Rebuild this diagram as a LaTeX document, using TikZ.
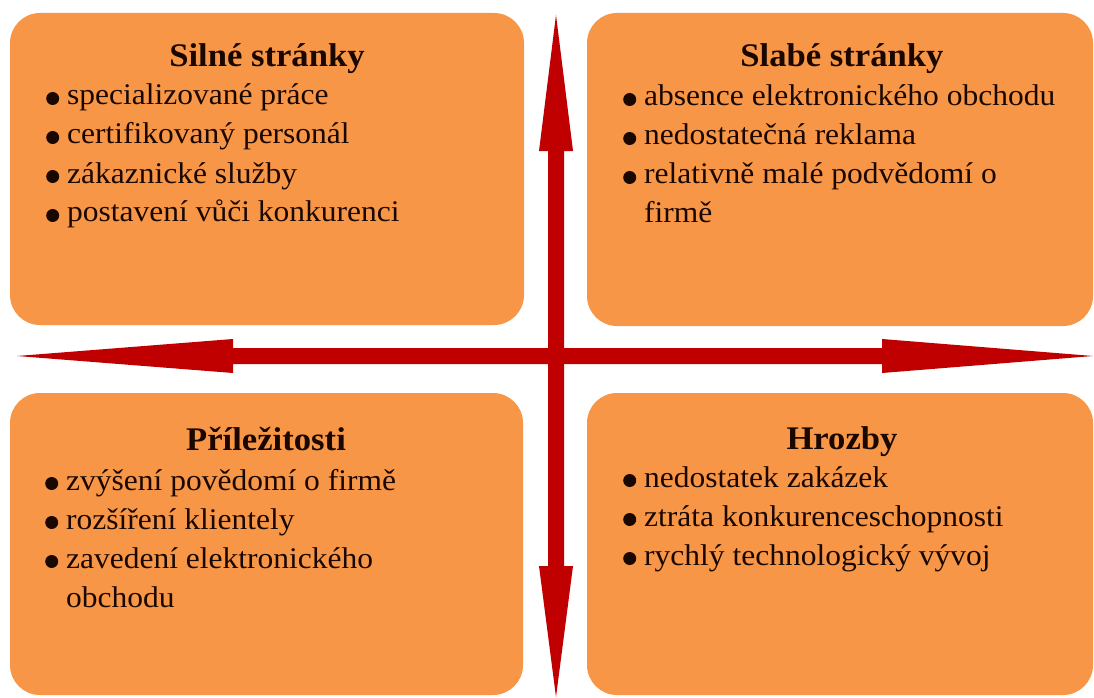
\documentclass[tikz,border=0pt]{standalone}
\usepackage{fontspec}
\setmainfont[FakeStretch=1.05]{Liberation Serif}
\definecolor{boxorange}{HTML}{F79646}
\definecolor{arrowred}{HTML}{C00000}
\definecolor{textdark}{HTML}{1A0800}
\newcommand{\mybul}{\tikz[x=1pt,y=1pt,baseline=0pt]\fill[textdark] (6.5,6.5) circle[radius=6.5pt];}
\begin{document}
\begin{tikzpicture}[x=1pt,y=-1pt,
  quad/.style={fill=boxorange, rounded corners=30pt, inner sep=0pt},
  quadtitle/.style={anchor=base, inner sep=0pt, text=textdark, font=\fontsize{33}{38}\selectfont\bfseries},
  items/.style={anchor=base west, inner sep=0pt, text=textdark, font=\fontsize{30}{39}\selectfont},
  arrowshape/.style={fill=arrowred}]
\useasboundingbox (0,0) rectangle (1094,698);
% boxes
\node[quad, minimum width=514pt, minimum height=312pt] (sbox) at (267,169) {};
\node[quad, minimum width=506pt, minimum height=313pt] (wbox) at (840,169.5) {};
\node[quad, minimum width=513pt, minimum height=302pt] (obox) at (266.5,544) {};
\node[quad, minimum width=506pt, minimum height=302pt] (tbox) at (840,544) {};
% titles
\node[quadtitle] (stitle) at (267,67) {Silné stránky};
\node[quadtitle] (wtitle) at (842,67) {Slabé stránky};
\node[quadtitle] (otitle) at (266,450) {Příležitosti};
\node[quadtitle] (ttitle) at (842,449) {Hrozby};
% items
\node[items] (sitems) at (46,105) {\begin{tabular}[t]{@{}l@{\hspace{8pt}}l@{}}
\mybul & specializované práce\\
\mybul & certifikovaný personál\\
\mybul & zákaznické služby\\
\mybul & postavení vůči konkurenci
\end{tabular}};
\node[items] (witems) at (623,106) {\begin{tabular}[t]{@{}l@{\hspace{8pt}}l@{}}
\mybul & absence elektronického obchodu\\
\mybul & nedostatečná reklama\\
\mybul & relativně malé podvědomí o\\
 & firmě
\end{tabular}};
\node[items] (oitems) at (45,490) {\begin{tabular}[t]{@{}l@{\hspace{8pt}}l@{}}
\mybul & zvýšení povědomí o firmě\\
\mybul & rozšíření klientely\\
\mybul & zavedení elektronického\\
 & obchodu
\end{tabular}};
\node[items] (titems) at (623,487) {\begin{tabular}[t]{@{}l@{\hspace{8pt}}l@{}}
\mybul & nedostatek zakázek\\
\mybul & ztráta konkurenceschopnosti\\
\mybul & rychlý technologický vývoj
\end{tabular}};
% arrows
\coordinate (hl) at (17,356);
\coordinate (hr) at (1093,356);
\coordinate (vt) at (556,15);
\coordinate (vb) at (556,697);
\fill[arrowshape] (hl) -- (233,339) -- (233,348) -- (882,348) -- (882,339) -- (hr)
  -- (882,373) -- (882,364) -- (233,364) -- (233,373) -- cycle;
\fill[arrowshape] (vt) -- (573,151) -- (564,151) -- (564,566) -- (573,566) -- (vb)
  -- (539,566) -- (548,566) -- (548,151) -- (539,151) -- cycle;
\end{tikzpicture}
\end{document}
